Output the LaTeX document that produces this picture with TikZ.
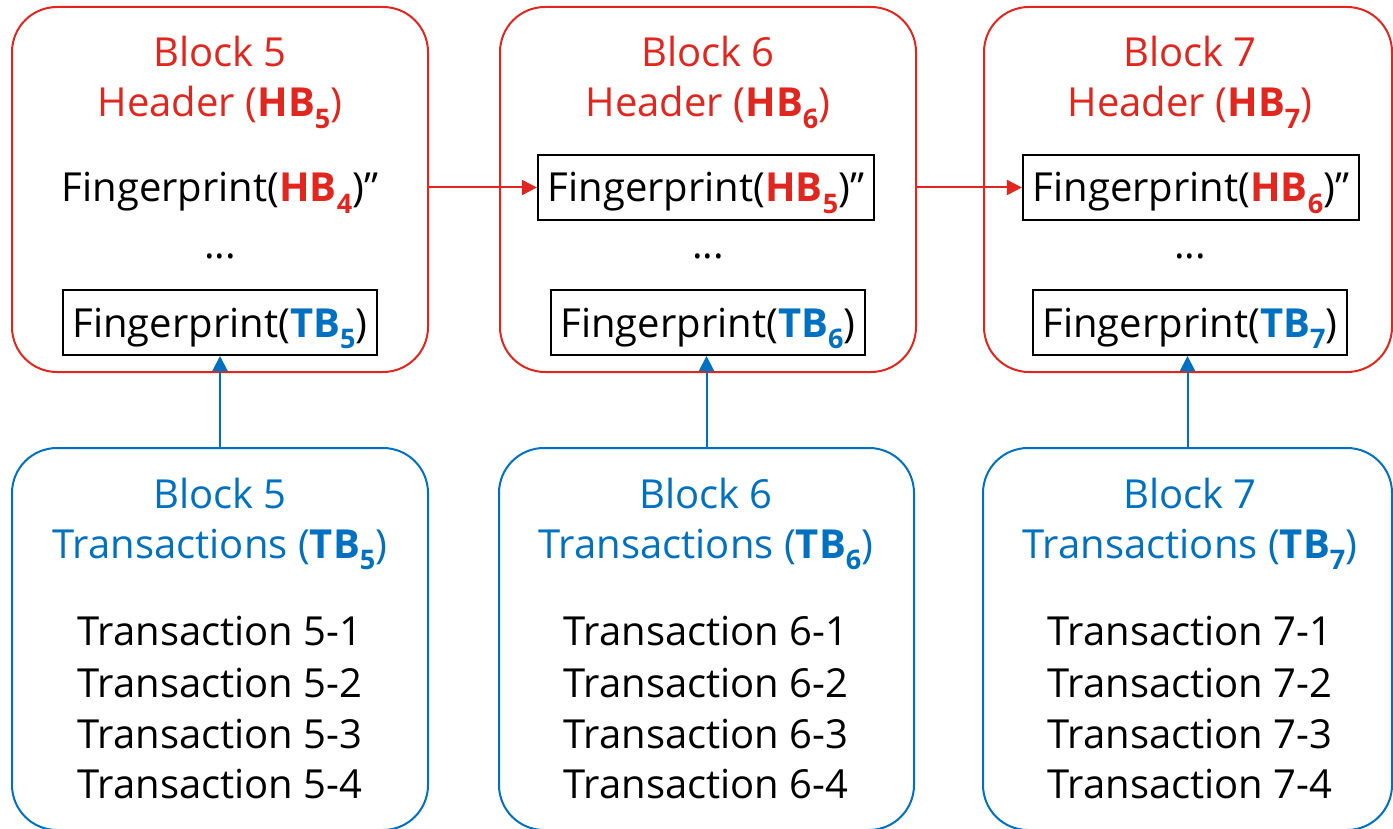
\documentclass[tikz,border=0pt]{standalone}
\usepackage{fontspec}
\setmainfont{Open Sans}
\usetikzlibrary{arrows.meta}
\definecolor{hred}{RGB}{224,38,30}
\definecolor{tblue}{RGB}{0,112,192}
\newcommand\subd[1]{\raisebox{-0.28em}{\fontsize{27}{27}\selectfont\bfseries #1}}
\tikzset{
  hdrbox/.style={draw=hred, line width=2pt, rounded corners=45pt, inner sep=0pt, minimum height=365pt},
  trbox/.style={draw=tblue, line width=2pt, rounded corners=45pt, inner sep=0pt, minimum height=382pt, anchor=north},
  txt/.style={font=\fontsize{40}{51}\selectfont, inner sep=0pt, anchor=base},
  fpbox/.style={txt, draw=black, line width=2pt, inner xsep=10pt, inner ysep=0pt, text height=47pt, text depth=18pt},
  redarrow/.style={draw=hred, line width=2pt, -{Triangle[length=15pt,width=15pt]}},
  bluearrow/.style={draw=tblue, line width=2pt, -{Triangle[length=15pt,width=15pt]}}
}
\begin{document}
\begin{tikzpicture}[x=1pt,y=-1pt]
\useasboundingbox (0,0) rectangle (1393,829);
% header boxes
\node[hdrbox, minimum width=416pt] (h5) at (220,189.5) {};
\node[hdrbox, minimum width=416pt] (h6) at (708,189.5) {};
\node[hdrbox, minimum width=408pt] (h7) at (1188,189.5) {};
% transaction boxes
\node[trbox, minimum width=416pt] (t5) at (220,447) {};
\node[trbox, minimum width=415pt] (t6) at (706.5,447) {};
\node[trbox, minimum width=409pt] (t7) at (1187.5,447) {};
% header texts
\foreach \n/\c in {5/220,6/708,7/1190}{
  \node[txt, text=hred] (hb\n) at (\c,67) {Block \n};
  \node[txt, text=hred] (hh\n) at (\c,117) {Header (\textbf{HB\subd{\n}})};
  \node[txt] (hd\n) at (\c,259) {...};
  \node[fpbox] (tb\n) at (\c,337) {Fingerprint(\textcolor{tblue}{\textbf{TB\subd{\n}}})};
}
\node[txt] (fp5) at (220,202) {Fingerprint(\textcolor{hred}{\textbf{HB\subd{4}}})”};
\node[fpbox] (fp6) at (706,202) {Fingerprint(\textcolor{hred}{\textbf{HB\subd{5}}})”};
\node[fpbox] (fp7) at (1191,202) {Fingerprint(\textcolor{hred}{\textbf{HB\subd{6}}})”};
% transaction texts
\foreach \n/\c in {5/220,6/706,7/1190}{
  \node[txt, text=tblue] (tk\n) at (\c,508) {Block \n};
  \node[txt, text=tblue] (tt\n) at (\c,558) {Transactions (\textbf{TB\subd{\n}})};
  \node[txt] (x\n a) at (\c,645) {Transaction \n-1};
  \node[txt] (x\n b) at (\c,697) {Transaction \n-2};
  \node[txt] (x\n c) at (\c,748) {Transaction \n-3};
  \node[txt] (x\n d) at (\c,798) {Transaction \n-4};
}
% arrows
\draw[redarrow] (h5.east |- fp6.west) -- (fp6.west);
\draw[redarrow] (h6.east |- fp7.west) -- (fp7.west);
\draw[bluearrow] (t5.north) -- (t5.north |- tb5.south);
\draw[bluearrow] (t6.north) -- (t6.north |- tb6.south);
\draw[bluearrow] (t7.north) -- (t7.north |- tb7.south);
\end{tikzpicture}
\end{document}
